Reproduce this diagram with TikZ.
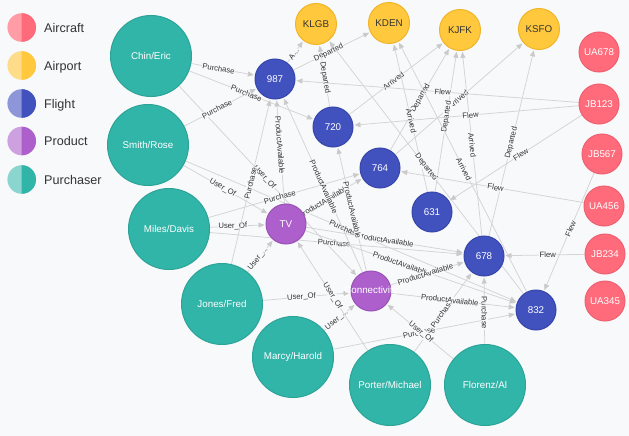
\documentclass[tikz,border=0pt]{standalone}
\usepackage{fontspec}
\setmainfont{Liberation Sans}
\usetikzlibrary{arrows.meta}
\definecolor{bgc}{HTML}{F8F9FB}
\definecolor{txt}{HTML}{333333}
\definecolor{edgec}{HTML}{D4D4D4}
\definecolor{arrc}{HTML}{CACACA}
\definecolor{cPur}{HTML}{31B5A8}
\definecolor{cPurD}{HTML}{2CA397}
\definecolor{cPurL}{HTML}{8AD5CE}
\definecolor{cFli}{HTML}{4152BF}
\definecolor{cFliD}{HTML}{3545A8}
\definecolor{cFliL}{HTML}{8C96D8}
\definecolor{cAir}{HTML}{FFC83D}
\definecolor{cAirD}{HTML}{F0B52A}
\definecolor{cAirL}{HTML}{FFDC8A}
\definecolor{cCra}{HTML}{FF6B7B}
\definecolor{cCraD}{HTML}{EE6070}
\definecolor{cCraL}{HTML}{FF9CA6}
\definecolor{cPro}{HTML}{AD5FCB}
\definecolor{cProD}{HTML}{9A50B8}
\definecolor{cProL}{HTML}{CDA1E0}
\pgfdeclarelayer{bglayer}
\pgfdeclarelayer{edgelayer}
\pgfsetlayers{bglayer,edgelayer,main}
\tikzset{
  base/.style={circle, inner sep=0pt, line width=1pt},
  purch/.style={base, minimum size=81pt, fill=cPur, draw=cPurD},
  flight/.style={base, minimum size=40pt, fill=cFli, draw=cFliD},
  airport/.style={base, minimum size=41pt, fill=cAir, draw=cAirD},
  craft/.style={base, minimum size=40pt, fill=cCra, draw=cCraD},
  prod/.style={base, minimum size=40pt, fill=cPro, draw=cProD},
  wtxt/.style={label={[text=white,font=\fontsize{9.8}{10}\selectfont]center:#1}},
  dtxt/.style={label={[text=txt,font=\fontsize{9.8}{10}\selectfont]center:#1}},
  edge/.style={draw=edgec, line width=0.75pt, -{Triangle[length=6pt,width=5pt,color=arrc]}, shorten >=1pt},
  lbl/.style={sloped, font=\fontsize{7.7}{8}\selectfont, text=txt, fill=bgc, inner sep=0.5pt},
  legtxt/.style={anchor=base west, font=\fontsize{12.6}{13}\selectfont, text=txt, inner sep=0pt},
}
\begin{document}
\begin{tikzpicture}[x=1pt,y=-1pt]
\begin{pgfonlayer}{bglayer}
\fill[bgc] (0,0) rectangle (629,436);
\end{pgfonlayer}
\useasboundingbox (0,0) rectangle (629,436);

% legend
\foreach \yy/\cl/\cd/\name/\nm in {27.5/cCraL/cCra/Aircraft/la,65.5/cAirL/cAir/Airport/lb,103.5/cFliL/cFli/Flight/lc,141/cProL/cPro/Product/ld,179.5/cPurL/cPur/Purchaser/le}{
  \fill[\cl] (21.7,\yy) circle (14.3);
  \begin{scope}
    \clip (21.7,\yy-15) rectangle (37,\yy+15);
    \fill[\cd] (21.7,\yy) circle (14.3);
  \end{scope}
  \node[legtxt] (\nm) at (44,\yy+4.6) {\name};
}

% purchasers
\node[purch,wtxt=Chin/Eric] (chin) at (151,56) {};
\node[purch,wtxt=Smith/Rose] (smith) at (148,145) {};
\node[purch,wtxt=Miles/Davis] (miles) at (169,229) {};
\node[purch,wtxt=Jones/Fred] (jones) at (222,304) {};
\node[purch,wtxt=Marcy/Harold] (marcy) at (293,357) {};
\node[purch,wtxt=Porter/Michael] (porter) at (390,385) {};
\node[purch,wtxt=Florenz/Al] (florenz) at (485,385) {};
% products
\node[prod,wtxt=TV] (tv) at (286,224) {};
\node[prod,wtxt=Connectivity] (conn) at (371,291) {};
% flights
\node[flight,wtxt=987] (f987) at (275,79) {};
\node[flight,wtxt=720] (f720) at (333,127) {};
\node[flight,wtxt=764] (f764) at (380,168) {};
\node[flight,wtxt=631] (f631) at (432,212) {};
\node[flight,wtxt=678] (f678) at (484,256) {};
\node[flight,wtxt=832] (f832) at (536,310) {};
% airports
\node[airport,dtxt=KLGB] (klgb) at (316,24) {};
\node[airport,dtxt=KDEN] (kden) at (389,23) {};
\node[airport,dtxt=KJFK] (kjfk) at (460,30) {};
\node[airport,dtxt=KSFO] (ksfo) at (539,29) {};
% aircraft
\node[craft,wtxt=UA678] (ua678) at (599,52) {};
\node[craft,wtxt=JB123] (jb123) at (599,104) {};
\node[craft,wtxt=JB567] (jb567) at (602,154) {};
\node[craft,wtxt=UA456] (ua456) at (604,206) {};
\node[craft,wtxt=JB234] (jb234) at (605,254) {};
\node[craft,wtxt=UA345] (ua345) at (605,301) {};

\begin{pgfonlayer}{edgelayer}
% purchaser edges
\draw[edge] (chin) -- node[lbl,pos=.43]{Purchase} (f987);
\draw[edge] (chin) -- node[lbl,pos=.46]{Purchase} (f720);
\draw[edge] (chin) -- node[lbl,pos=.48]{User\_Of} (conn);
\draw[edge] (smith) -- node[lbl,pos=.45]{Purchase} (f987);
\draw[edge] (smith) -- node[lbl,pos=.46]{User\_Of} (tv);
\draw[edge] (smith) -- node[lbl,pos=.48]{Purchase} (f832);
\draw[edge] (miles) -- node[lbl,pos=.41]{User\_Of} (tv);
\draw[edge] (miles) -- node[lbl,pos=.47]{Purchase} (f764);
\draw[edge] (miles) -- node[lbl,pos=.49]{Purchase} (f678);
\draw[edge] (jones) -- node[lbl,pos=.44]{User\_Of} (conn);
\draw[edge] (jones) -- node[lbl,pos=.41]{User\_...} (tv);
\draw[edge] (jones) -- node[lbl,pos=.49]{Purchase} (f987);
\draw[edge] (marcy) -- node[lbl,pos=.40]{User\_...} (conn);
\draw[edge] (marcy) -- node[lbl,pos=.47]{Purchase} (f832);
\draw[edge] (porter) -- node[lbl,pos=.50]{User\_Of} (tv);
\draw[edge] (porter) -- node[lbl,pos=.48]{Purchase} (f678);
\draw[edge] (florenz) -- node[lbl,pos=.49]{User\_Of} (conn);
\draw[edge] (florenz) -- node[lbl,pos=.46]{Purchase} (f678);
% product edges
\draw[edge] (tv) -- node[lbl,pos=.56]{ProductAvailable} (f987);
\draw[edge] (tv) -- node[lbl,pos=.34]{ProductAvailable} (f764);
\draw[edge] (tv) -- node[lbl,pos=.50]{ProductAvailable} (f678);
\draw[edge] (tv) -- node[lbl,pos=.45]{ProductAvailable} (f832);
\draw[edge] (conn) -- node[lbl,pos=.49]{ProductAvailable} (f987);
\draw[edge] (conn) -- node[lbl,pos=.49]{ProductAvailable} (f720);
\draw[edge] (conn) -- node[lbl,pos=.47]{ProductAvailable} (f678);
\draw[edge] (conn) -- node[lbl,pos=.47]{ProductAvailable} (f832);
% flight to airport
\draw[edge] (f987) -- node[lbl,pos=.40]{A...} (klgb);
\draw[edge] (f987) -- node[lbl,pos=.46]{Departed} (kden);
\draw[edge] (f720) -- node[lbl,pos=.47]{Departed} (klgb);
\draw[edge] (f720) -- node[lbl,pos=.47]{Arrived} (kjfk);
\draw[edge] (f764) -- node[lbl,pos=.51]{Departed} (kjfk);
\draw[edge] (f764) -- node[lbl,pos=.49]{Arrived} (ksfo);
\draw[edge] (f631) -- node[lbl,pos=.48]{Arrived} (kden);
\draw[edge] (f631) -- node[lbl,pos=.53]{Departed} (kjfk);
\draw[edge] (f678) -- node[lbl,pos=.49]{Arrived} (kjfk);
\draw[edge] (f678) -- node[lbl,pos=.50]{Departed} (ksfo);
\draw[edge] (f832) -- node[lbl,pos=.50]{Departed} (klgb);
\draw[edge] (f832) -- node[lbl,pos=.49]{Arrived} (kden);
% aircraft to flight
\draw[edge] (jb123) -- node[lbl,pos=.48]{Flew} (f987);
\draw[edge] (jb123) -- node[lbl,pos=.48]{Flew} (f720);
\draw[edge] (jb123) -- node[lbl,pos=.46]{Flew} (f631);
\draw[edge] (ua456) -- node[lbl,pos=.48]{Flew} (f764);
\draw[edge] (jb234) -- node[lbl,pos=.46]{Flew} (f678);
\draw[edge] (jb567) -- node[lbl,pos=.47]{Flew} (f832);
\end{pgfonlayer}
\end{tikzpicture}
\end{document}
